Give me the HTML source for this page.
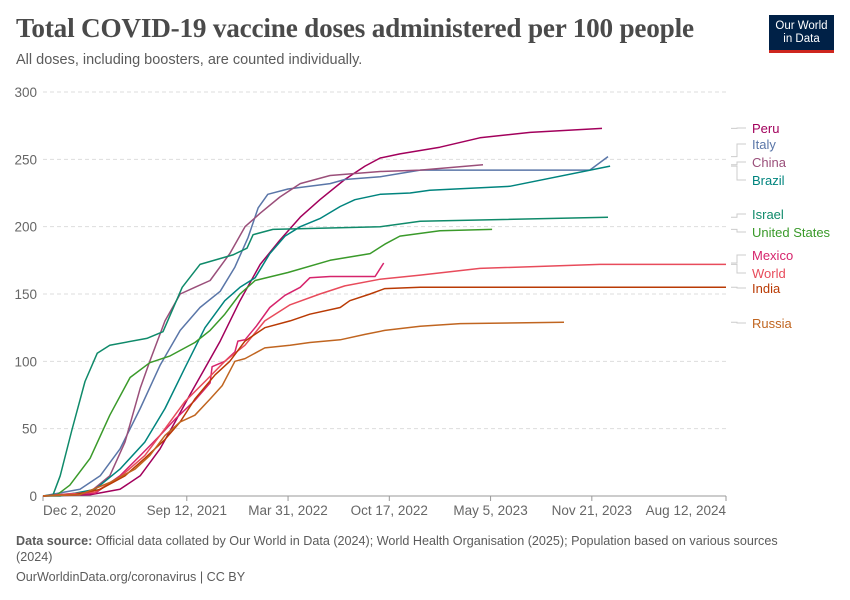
<!DOCTYPE html>
<html><head><meta charset="utf-8"><style>
body{margin:0;background:#fff;width:850px;height:600px;overflow:hidden;font-family:"Liberation Sans",sans-serif;}
#title{position:absolute;left:16px;top:13px;font-family:"Liberation Serif",serif;font-size:27.2px;font-weight:bold;color:#4a4a4a;letter-spacing:-0.2px}
#sub{position:absolute;left:16px;top:52px;font-size:14.5px;color:#5b5b5b}
#logo{position:absolute;left:769px;top:15px;width:65px;height:38px;background:#002147;color:#fff;font-size:11.5px;text-align:center;line-height:13px;box-sizing:border-box;padding-top:5px;border-bottom:3px solid #ce261e}
.foot{position:absolute;left:16px;font-size:12.6px;color:#5b5b5b}
</style></head><body>
<div id="title">Total COVID-19 vaccine doses administered per 100 people</div>
<div id="sub">All doses, including boosters, are counted individually.</div>
<div id="logo">Our World<br>in Data</div>
<svg id="chart" width="850" height="600" style="position:absolute;left:0;top:0"></svg>
<div class="foot" style="top:533px;line-height:16px;width:790px"><b>Data source:</b> Official data collated by Our World in Data (2024); World Health Organisation (2025); Population based on various sources (2024)</div>
<div class="foot" style="top:570px">OurWorldinData.org/coronavirus | CC BY</div>
<script>
const tickDays=[0,284,484,684,884,1084,1349];
const tickLabels=["Dec 2, 2020","Sep 12, 2021","Mar 31, 2022","Oct 17, 2022","May 5, 2023","Nov 21, 2023","Aug 12, 2024"];
const yTicks=[0,50,100,150,200,250,300];
const names=["Peru","Italy","China","Brazil","Israel","United States","Mexico","World","India","Russia"];
const colors=["#a2005c","#5a76a8","#9a4f7a","#00847e","#0f8a6a","#3a9a2a","#d6246c","#e84b5b","#b93a04","#c06520"];
const labelY=[128,144,162,180,214,232,255,273,288,323];
const peruDays=[0,93,152,192,231,261,290,320,350,389,429,468,508,547,596,636,666,705,784,863,962,1104];
const peruVals=[0,1,5,15,35,55,75,95,115,145,172,190,207,220,235,245,251,254,259,266,270,273];
const italyDays=[0,73,113,152,192,231,271,310,350,379,405,425,444,484,567,596,666,745,1080,1116];
const italyVals=[0,5,15,35,65,97,123,140,152,170,192,214,224,228,232,235,237,242,242,252];
const chinaDays=[0,93,132,162,192,211,241,271,300,330,369,399,429,468,508,567,666,745,869];
const chinaVals=[0,3,15,40,80,100,130,150,155,160,180,200,210,222,232,238,241,242,246];
const brazilDays=[0,34,103,152,201,241,280,320,359,389,419,448,478,508,547,587,616,666,725,764,922,1120];
const brazilVals=[0,0,5,20,40,65,95,125,145,155,162,180,193,200,206,215,220,224,225,227,230,245];
const israelDays=[0,20,34,57,83,107,132,205,237,275,310,375,403,415,454,666,745,1116];
const israelVals=[0,1,15,49,85,106,112,117,122,155,172,179,184,194,198,200,204,207];
const usDays=[0,28,53,93,132,172,211,251,300,330,359,389,419,484,567,646,675,705,784,887];
const usVals=[0,1,8,28,60,88,99,104,114,123,135,150,160,166,175,180,187,193,197,198];
const mexicoDays=[0,103,152,192,231,261,300,330,334,359,379,385,399,421,448,478,508,527,567,656,673];
const mexicoVals=[0,2,15,30,45,57,71,84,96,100,107,115,116,126,140,149,155,162,163,163,173];
const worldDays=[0,103,152,201,241,280,320,359,399,438,488,547,596,666,745,863,1100,1349];
const worldVals=[0,3,14,30,50,70,85,100,112,130,142,150,156,161,164,169,172,172];
const indiaDays=[0,63,113,162,201,241,271,300,340,369,399,438,488,527,587,606,646,675,745,1349];
const indiaVals=[0,1,5,15,28,42,55,72,90,100,115,125,130,135,140,145,150,154,155,155];
const russiaDays=[0,73,132,182,211,241,271,300,330,354,379,399,438,488,527,587,636,675,745,824,1029];
const russiaVals=[0,1,10,20,30,45,55,60,72,82,100,102,110,112,114,116,120,123,126,128,129];
const seriesDays=[peruDays,italyDays,chinaDays,brazilDays,israelDays,usDays,mexicoDays,worldDays,indiaDays,russiaDays];
const seriesVals=[peruVals,italyVals,chinaVals,brazilVals,israelVals,usVals,mexicoVals,worldVals,indiaVals,russiaVals];

const svg=document.getElementById('chart');const NS="http://www.w3.org/2000/svg";
const X0=43,X1=726,Y0=496,Y1=92,DMAX=1349,VMAX=300;
const xs=d=>X0+d*(X1-X0)/DMAX, ys=v=>Y0-v*(Y0-Y1)/VMAX;
function mk(t,a){const e=document.createElementNS(NS,t);for(const k in a)e.setAttribute(k,a[k]);svg.appendChild(e);return e;}
yTicks.forEach(v=>{
  if(v>0){const g=mk('line',{x1:X0,x2:X1,y1:ys(v),y2:ys(v),stroke:'#ddd','stroke-dasharray':'4,3'});
  
  }
  const t=mk('text',{x:37,y:ys(v)+5,'text-anchor':'end','font-size':'13.5','fill':'#666','font-family':'Liberation Sans'});t.textContent=v;
  
  
});
const ax=mk('line',{x1:X0,x2:X1,y1:Y0,y2:Y0,stroke:'#999'});


tickDays.forEach((d,i)=>{
  const x=xs(d);mk('line',{x1:x,x2:x,y1:Y0,y2:Y0+5,stroke:'#999'});
  const anc=i==0?'start':(i==tickDays.length-1?'end':'middle');
  const t=mk('text',{x:x,y:515,'text-anchor':anc,'font-size':'13.5','fill':'#666','font-family':'Liberation Sans'});t.textContent=tickLabels[i];
  
  
});
seriesDays.forEach((ds,i)=>{
  const p=ds.map((d,j)=>(j?'L':'M')+xs(d).toFixed(1)+','+ys(seriesVals[i][j]).toFixed(1)).join('');
  const path=mk('path',{d:p,fill:'none',stroke:colors[i],'stroke-width':1.5,'stroke-linejoin':'round'});
  
  
  const last=seriesVals[i][seriesVals[i].length-1];
  const yl=ys(last),yt=labelY[i];
  mk('path',{d:`M731,${yl.toFixed(1)}H737V${yt}H746`,fill:'none',stroke:'#ccc'});
  const t=mk('text',{x:752,y:yt+5,'font-size':'13','fill':colors[i],'font-family':'Liberation Sans'});t.textContent=names[i];
  
  
});
</script>
</body></html>
